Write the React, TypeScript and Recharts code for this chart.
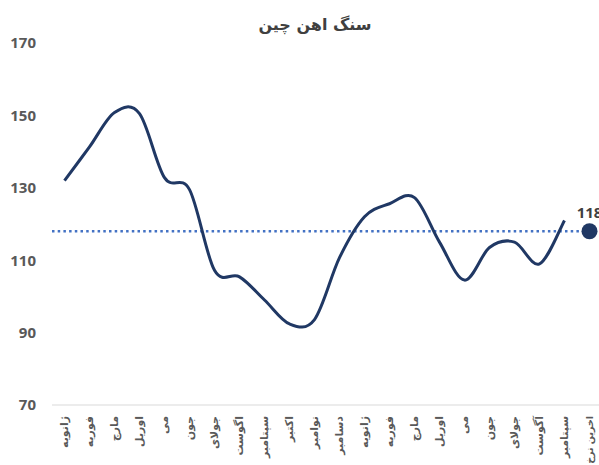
import React from 'react';
import {
  ComposedChart,
  Line,
  XAxis,
  YAxis,
  ReferenceLine,
} from 'recharts';

const MONTHS = [
  'ژانویه', 'فوریه', 'مارچ', 'اوریل', 'می', 'جون', 'جولای', 'اگوست', 'سپتامبر', 'اکتبر', 'نوامبر', 'دسامبر',
  'ژانویه', 'فوریه', 'مارچ', 'اوریل', 'می', 'جون', 'جولای', 'آگوست', 'سپتامبر', 'اخرین نرخ',
];

const IRON_ORE = [
  132, 141.3, 150.8, 150.5, 132.8, 129.5, 107.2, 105.4, 99, 92.4, 93.6, 110.7,
  122, 125.6, 127.3, 115, 104.5, 113.5, 115, 109, 121, null,
];

const LAST_RATE = [
  null, null, null, null, null, null, null, null, null, null, null, null,
  null, null, null, null, null, null, null, null, null, 118,
];

const REF_VALUE = 118;
const Y_TICKS = [70, 90, 110, 130, 150, 170];

const data = MONTHS.map((name, i) => ({
  name,
  ore: IRON_ORE[i],
  last: LAST_RATE[i],
}));

const NAVY = '#203864';
const TEXT = '#595959';
const AR_FONT = "'DejaVu Sans', sans-serif";
const NUM_FONT = "'Open Sans', 'DejaVu Sans', sans-serif";

// excel-like smoothing (catmull-rom as bezier)
function smoothCurve(ctx: any) {
  let pts: number[][] = [];
  return {
    areaStart() {},
    areaEnd() {},
    lineStart() {
      pts = [];
    },
    point(x: number, y: number) {
      pts.push([+x, +y]);
    },
    lineEnd() {
      if (!pts.length) return;
      ctx.moveTo(pts[0][0], pts[0][1]);
      if (pts.length === 1) {
        ctx.lineTo(pts[0][0], pts[0][1]);
        return;
      }
      for (let i = 0; i < pts.length - 1; i++) {
        const p0 = pts[i - 1] || pts[i];
        const p1 = pts[i];
        const p2 = pts[i + 1];
        const p3 = pts[i + 2] || pts[i + 1];
        ctx.bezierCurveTo(
          p1[0] + (p2[0] - p0[0]) / 6,
          p1[1] + (p2[1] - p0[1]) / 6,
          p2[0] - (p3[0] - p1[0]) / 6,
          p2[1] - (p3[1] - p1[1]) / 6,
          p2[0],
          p2[1]
        );
      }
    },
  };
}

const MonthTick = (props: any) => {
  const { x, y, payload } = props;
  const label = String(payload.value);
  // the long last label has to fit above the bottom edge
  const size = label.length > 8 ? 9.5 : 11;
  return (
    <text
      x={x}
      y={y + 3}
      transform={`rotate(-90, ${x}, ${y + 3})`}
      textAnchor="end"
      dy="0.35em"
      fill={TEXT}
      fontSize={size}
      fontWeight="bold"
      fontFamily={AR_FONT}
    >
      {label}
    </text>
  );
};

const LastLabel = (props: any) => {
  const { x, y, value } = props;
  if (value == null) return null;
  return (
    <text
      x={x}
      y={y - 13}
      textAnchor="middle"
      fill="#404040"
      fontSize={15}
      fontWeight="bold"
      fontFamily={NUM_FONT}
    >
      {value}
    </text>
  );
};

export default function App() {
  return (
    <div
      style={{
        position: 'absolute',
        left: 0,
        top: 0,
        width: 599,
        height: 465,
        overflow: 'hidden',
        background: '#fff',
      }}
    >
      <div
        style={{
          position: 'absolute',
          left: 0,
          top: 15,
          width: 630,
          textAlign: 'center',
          fontFamily: AR_FONT,
          fontWeight: 'bold',
          fontSize: 16,
          color: '#404040',
          direction: 'rtl',
        }}
      >
        سنگ اهن چین
      </div>
      <ComposedChart
        width={602}
        height={465}
        data={data}
        margin={{ top: 43, right: 0, bottom: 0, left: 0 }}
      >
        <XAxis
          dataKey="name"
          interval={0}
          height={60}
          padding={{ left: 12.5, right: 12.5 }}
          tick={<MonthTick />}
          tickLine={false}
          axisLine={{ stroke: '#d9d9d9', strokeWidth: 1 }}
        />
        <YAxis
          domain={[70, 170]}
          ticks={Y_TICKS}
          width={52}
          axisLine={false}
          tickLine={false}
          tickSize={6}
          tickMargin={10}
          tick={{ fill: TEXT, fontSize: 15, fontWeight: 'bold', fontFamily: NUM_FONT }}
        />
        <ReferenceLine
          y={REF_VALUE}
          stroke="#4472C4"
          strokeWidth={2.5}
          strokeDasharray="2.5 3.2"
        />
        <Line
          dataKey="ore"
          type={smoothCurve as any}
          stroke={NAVY}
          strokeWidth={3}
          dot={false}
          activeDot={false}
          isAnimationActive={false}
        />
        <Line
          dataKey="last"
          stroke={NAVY}
          strokeWidth={0}
          dot={{ r: 8, fill: NAVY, stroke: NAVY, strokeWidth: 0 }}
          activeDot={false}
          label={<LastLabel />}
          isAnimationActive={false}
        />
      </ComposedChart>
    </div>
  );
}
